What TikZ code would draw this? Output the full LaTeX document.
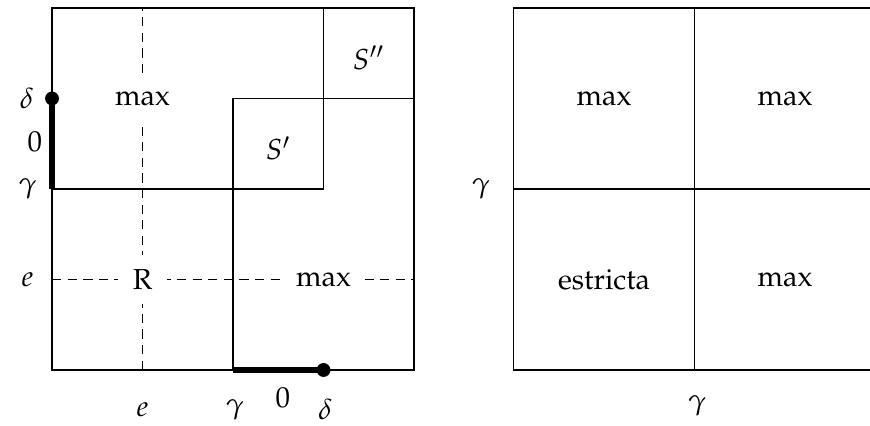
\documentclass[tikz,border=0pt]{standalone}
\usepackage[T1]{fontenc}
\usepackage{mathpazo}
\usetikzlibrary{calc}

\begin{document}
\begin{tikzpicture}[x=1.1cm, y=1.1cm, every node/.style={font=\normalsize}, edge/.style={line width=0.4pt}, cut/.style={dash pattern=on 3.2pt off 2.2pt, line width=0.4pt}, seg/.style={line width=2.1pt}, dot/.style={circle, fill, inner sep=0pt, minimum size=4.8pt}, region/.style={fill=white, inner sep=5pt}]
      \useasboundingbox (-0.575,-0.608) rectangle (9.038,4.088);
      \clip (-0.575,-0.608) rectangle (9.038,4.088);
      % left square
      \draw[cut] (1,0) -- (1,4);
      \draw[cut] (0,1) -- (4,1);
      \draw[edge] (0,0) rectangle (4,4);
      \draw[edge] (0,2) -- (3,2) -- (3,4);
      \draw[edge] (2,0) -- (2,3) -- (4,3);
      \node[region] (maxA) at (1,3) {max};
      \node[region] (rset) at (1,1) {R};
      \node[region] (maxB) at (3,1) {max};
      \node (sone) at (2.5,2.45) {$S'$};
      \node (stwo) at (3.5,3.45) {$S''$};
      % thick segments
      \coordinate (g1) at (0,2);
      \coordinate (g2) at (2,0);
      \node[dot] (d1) at (0,3) {};
      \node[dot] (d2) at (3,0) {};
      \draw[seg] (g1) -- (d1.center);
      \draw[seg] (g2) -- (d2.center);
      \node (ldelta) at (-0.28,3) {$\delta$};
      \node (lzero) at (-0.19,2.52) {$0$};
      \node (lgamma) at (-0.27,2) {$\gamma$};
      \node (le) at (-0.27,1) {$e$};
      \node (be) at (1,-0.44) {$e$};
      \node (bgamma) at (2.02,-0.44) {$\gamma$};
      \node (bzero) at (2.55,-0.31) {$0$};
      \node (bdelta) at (3.02,-0.44) {$\delta$};
      % right square
      \begin{scope}[xshift=5.1cm*1.1]
        \draw[edge] (0,0) rectangle (4,4);
        \draw[edge] (2,0) -- (2,4);
        \draw[edge] (0,2) -- (4,2);
        \node (rtl) at (1,3) {max};
        \node (rtr) at (3,3) {max};
        \node (rbl) at (1,1) {estricta};
        \node (rbr) at (3,1) {max};
        \node (rgamma) at (-0.36,2) {$\gamma$};
        \node (cgamma) at (2.03,-0.4) {$\gamma$};
      \end{scope}
    \end{tikzpicture}
\end{document}
